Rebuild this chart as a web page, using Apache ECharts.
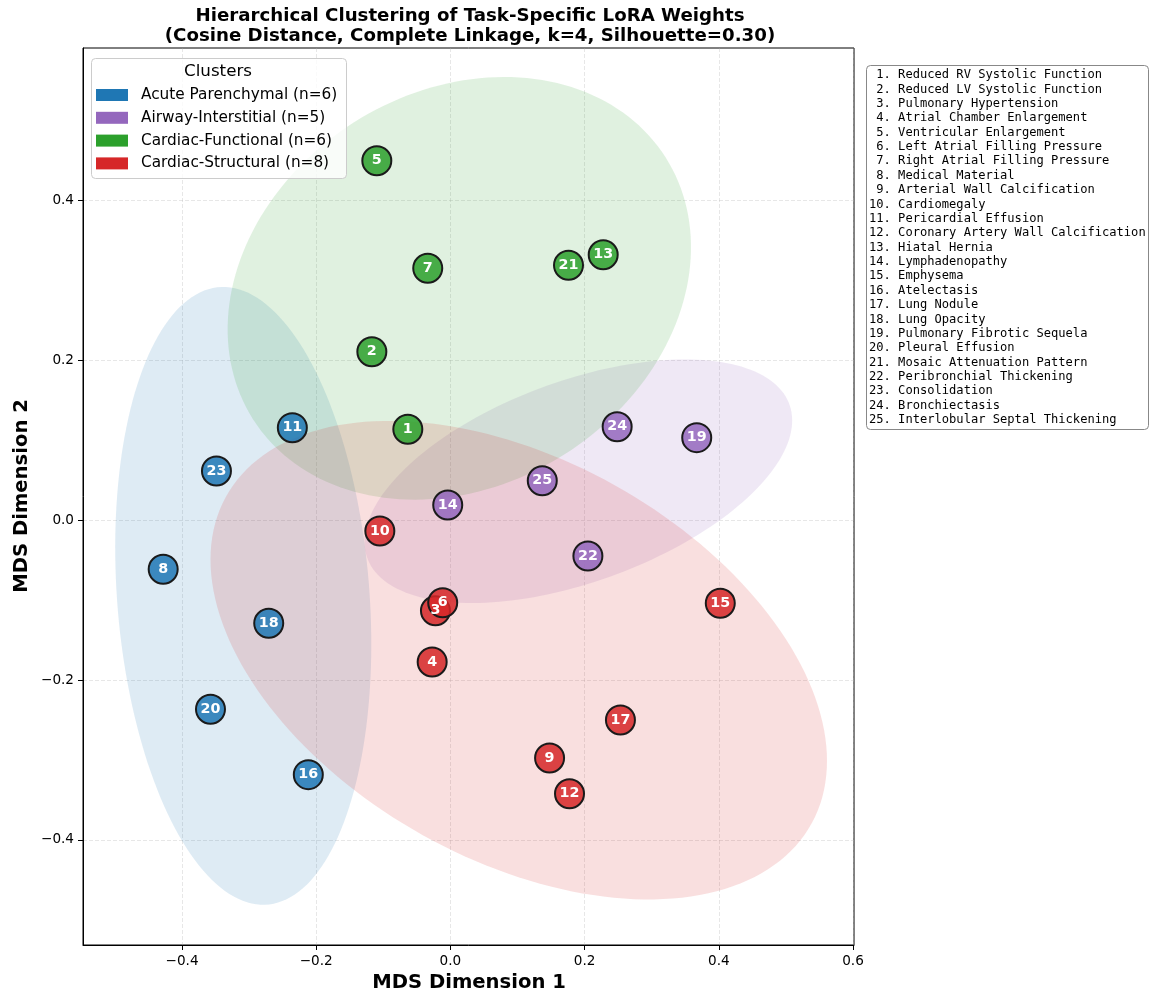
<!DOCTYPE html>
<html>
<head>
<meta charset="utf-8">
<script src="https://cdn.jsdelivr.net/npm/echarts@6/dist/echarts.min.js"></script>
<style>
  html, body { margin: 0; padding: 0; background: #fff; }
  #chart { width: 1151px; height: 996px; }
</style>
</head>
<body>
<div id="chart"></div>
<script>
// ---- data ----
const taskNames = [
  'Reduced RV Systolic Function', 'Reduced LV Systolic Function', 'Pulmonary Hypertension',
  'Atrial Chamber Enlargement', 'Ventricular Enlargement', 'Left Atrial Filling Pressure',
  'Right Atrial Filling Pressure', 'Medical Material', 'Arterial Wall Calcification',
  'Cardiomegaly', 'Pericardial Effusion', 'Coronary Artery Wall Calcification',
  'Hiatal Hernia', 'Lymphadenopathy', 'Emphysema', 'Atelectasis', 'Lung Nodule',
  'Lung Opacity', 'Pulmonary Fibrotic Sequela', 'Pleural Effusion',
  'Mosaic Attenuation Pattern', 'Peribronchial Thickening', 'Consolidation',
  'Bronchiectasis', 'Interlobular Septal Thickening'
];
// MDS coordinates of each task (task i+1)
const mdsX = [-0.0635, -0.1171, -0.0223, -0.0272, -0.1097, -0.0115, -0.0338, -0.4281, 0.1478, -0.1052,
              -0.2356, 0.1775, 0.2277, -0.0040, 0.4022, -0.2118, 0.2534, -0.2708, 0.3671, -0.3576,
              0.1760, 0.2049, -0.3487, 0.2485, 0.1369];
const mdsY = [0.1138, 0.2109, -0.1133, -0.1775, 0.4499, -0.1033, 0.3153, -0.0615, -0.2976, -0.0135,
              0.1158, -0.3423, 0.3323, 0.0190, -0.1040, -0.3185, -0.2501, -0.1290, 0.1033, -0.2367,
              0.3190, -0.0448, 0.0616, 0.1170, 0.0494];
// cluster index of each task
const clusterOf = [2, 2, 3, 3, 2, 3, 2, 0, 3, 3, 0, 3, 2, 1, 3, 0, 3, 0, 1, 0, 2, 1, 0, 1, 1];
const clusterNames = ['Acute Parenchymal', 'Airway-Interstitial', 'Cardiac-Functional', 'Cardiac-Structural'];
const clusterColors = ['#1f77b4', '#9467bd', '#2ca02c', '#d62728'];
// spread (in standard deviations) of each cluster's shaded ellipse
const ellipseSpread = [2.3, 2.32, 2.3, 2.66];
const xTicks = [-0.4, -0.2, 0.0, 0.2, 0.4, 0.6];
const yTicks = [-0.4, -0.2, 0.0, 0.2, 0.4];
const titleLines = ['Hierarchical Clustering of Task-Specific LoRA Weights',
                    '(Cosine Distance, Complete Linkage, k=4, Silhouette=0.30)'];

// ---- helpers ----
const FONT = 'DejaVu Sans';
function rgba(hex, a) {
  const n = parseInt(hex.slice(1), 16);
  return `rgba(${(n >> 16) & 255},${(n >> 8) & 255},${n & 255},${a})`;
}
function tickFmt(v) {
  return (v < -1e-9 ? '\u2212' : '') + Math.abs(v).toFixed(1);
}
// covariance ellipse outline (in data units) for a set of points
function covarianceEllipse(xs, ys, k, steps) {
  const n = xs.length;
  const mx = xs.reduce((s, v) => s + v, 0) / n;
  const my = ys.reduce((s, v) => s + v, 0) / n;
  let sxx = 0, syy = 0, sxy = 0;
  for (let i = 0; i < n; i++) {
    const dx = xs[i] - mx, dy = ys[i] - my;
    sxx += dx * dx; syy += dy * dy; sxy += dx * dy;
  }
  sxx /= (n - 1); syy /= (n - 1); sxy /= (n - 1);
  const tr = (sxx + syy) / 2;
  const d = Math.sqrt(((sxx - syy) / 2) ** 2 + sxy * sxy);
  const a = k * Math.sqrt(tr + d), b = k * Math.sqrt(Math.max(tr - d, 0));
  const th = 0.5 * Math.atan2(2 * sxy, sxx - syy);
  const pts = [];
  for (let i = 0; i < steps; i++) {
    const t = (i / steps) * 2 * Math.PI;
    const u = a * Math.cos(t), w = b * Math.sin(t);
    pts.push([mx + u * Math.cos(th) - w * Math.sin(th), my + u * Math.sin(th) + w * Math.cos(th)]);
  }
  return { center: [mx, my], pts };
}

// ---- series ----
const series = [];
const members = clusterNames.map((_, c) => clusterOf.map((cl, i) => cl === c ? i : -1).filter(i => i >= 0));

clusterNames.forEach((name, c) => {
  const idx = members[c];
  const ell = covarianceEllipse(idx.map(i => mdsX[i]), idx.map(i => mdsY[i]), ellipseSpread[c], 180);
  series.push({
    type: 'custom',
    name: 'ellipse-' + c,
    z: 1,
    silent: true,
    data: [ell.center],
    renderItem: (params, api) => ({
      type: 'polygon',
      shape: { points: ell.pts.map(p => api.coord(p)) },
      style: { fill: rgba(clusterColors[c], 0.15), stroke: null, lineWidth: 0 }
    })
  });
});

clusterNames.forEach((name, c) => {
  const idx = members[c];
  series.push({
    type: 'scatter',
    name: `${name} (n=${idx.length})`,
    z: 3,
    symbol: 'circle',
    symbolSize: 29,
    data: idx.map(i => [mdsX[i], mdsY[i], i + 1]),
    itemStyle: { color: rgba(clusterColors[c], 0.85), borderColor: '#1a1a1a', borderWidth: 2, opacity: 1 },
    label: {
      show: true, position: 'inside',
      formatter: p => String(p.value[2]),
      color: '#fff', fontFamily: FONT, fontWeight: 'bold', fontSize: 14.3
    },
    emphasis: { disabled: true }
  });
});

// ---- legend box (top-left) ----
const graphics = [];
const legX = 91, legY = 58;
graphics.push({
  type: 'rect', z: 50,
  shape: { x: legX + 0.5, y: legY + 0.5, width: 255, height: 120, r: 4 },
  style: { fill: 'rgba(255,255,255,0.8)', stroke: '#cccccc', lineWidth: 1 }
});
graphics.push({
  type: 'text', z: 51,
  x: 218, y: 72,
  style: { text: 'Clusters', fontFamily: FONT, fontSize: 16.7, fill: '#000', align: 'center', verticalAlign: 'middle' }
});
clusterNames.forEach((name, c) => {
  const cy = 95 + c * 22.8;
  graphics.push({
    type: 'rect', z: 51,
    shape: { x: 96, y: cy - 6, width: 32, height: 12 },
    style: { fill: clusterColors[c] }
  });
  graphics.push({
    type: 'text', z: 51,
    x: 141, y: cy,
    style: { text: `${name} (n=${members[c].length})`, fontFamily: FONT, fontSize: 15.3, fill: '#000', align: 'left', verticalAlign: 'middle' }
  });
});

// ---- task index box (right) ----
const listLines = taskNames.map((t, i) => `${String(i + 1).padStart(2, ' ')}. ${t}`);
graphics.push({
  type: 'rect', z: 50,
  shape: { x: 866.5, y: 65.5, width: 282, height: 364, r: 4 },
  style: { fill: '#fff', stroke: '#888888', lineWidth: 1 }
});
graphics.push({
  type: 'text', z: 51,
  x: 869, y: 67.8,
  style: { text: listLines.join('\n'), fontFamily: 'DejaVu Sans Mono', fontSize: 12.1, lineHeight: 14.375, fill: '#000', align: 'left', verticalAlign: 'top' }
});

// ---- title and axis names ----
graphics.push({
  type: 'text', z: 51, x: 470, y: 16,
  style: { text: titleLines[0], fontFamily: FONT, fontWeight: 'bold', fontSize: 18.2, fill: '#000', align: 'center', verticalAlign: 'middle' }
});
graphics.push({
  type: 'text', z: 51, x: 470, y: 36,
  style: { text: titleLines[1], fontFamily: FONT, fontWeight: 'bold', fontSize: 18.2, fill: '#000', align: 'center', verticalAlign: 'middle' }
});
graphics.push({
  type: 'text', z: 51, x: 469, y: 983,
  style: { text: 'MDS Dimension 1', fontFamily: FONT, fontWeight: 'bold', fontSize: 19.6, fill: '#000', align: 'center', verticalAlign: 'middle' }
});
graphics.push({
  type: 'text', z: 51, x: 22, y: 496, rotation: Math.PI / 2,
  style: { text: 'MDS Dimension 2', fontFamily: FONT, fontWeight: 'bold', fontSize: 19.6, fill: '#000', align: 'center', verticalAlign: 'middle' }
});

const gridLine = { show: true, lineStyle: { color: 'rgba(176,176,176,0.3)', width: 1, type: [4, 2] } };
const axisCommon = {
  type: 'value',
  axisLine: { show: true, onZero: false, lineStyle: { color: '#000', width: 1 } },
  axisTick: { show: true, inside: false, length: 5, lineStyle: { color: '#000', width: 1 } },
  splitLine: gridLine
};

const chart = echarts.init(document.getElementById('chart'), null, { renderer: 'canvas' });
chart.setOption({
  animation: false,
  backgroundColor: '#fff',
  grid: { left: 83, right: 297, top: 48, bottom: 51, show: true, borderColor: '#000', borderWidth: 1, backgroundColor: 'transparent' },
  xAxis: Object.assign({}, axisCommon, {
    min: -0.5476, max: 0.6015,
    axisTick: Object.assign({}, axisCommon.axisTick, { customValues: xTicks }),
    axisLabel: { customValues: xTicks, formatter: tickFmt, color: '#000', fontFamily: FONT, fontSize: 13.6, margin: 9 }
  }),
  yAxis: Object.assign({}, axisCommon, {
    min: -0.5317, max: 0.591,
    axisTick: Object.assign({}, axisCommon.axisTick, { customValues: yTicks }),
    axisLabel: { customValues: yTicks, formatter: tickFmt, color: '#000', fontFamily: FONT, fontSize: 13.6, margin: 9 }
  }),
  series: series,
  graphic: { elements: graphics }
});
</script>
</body>
</html>
